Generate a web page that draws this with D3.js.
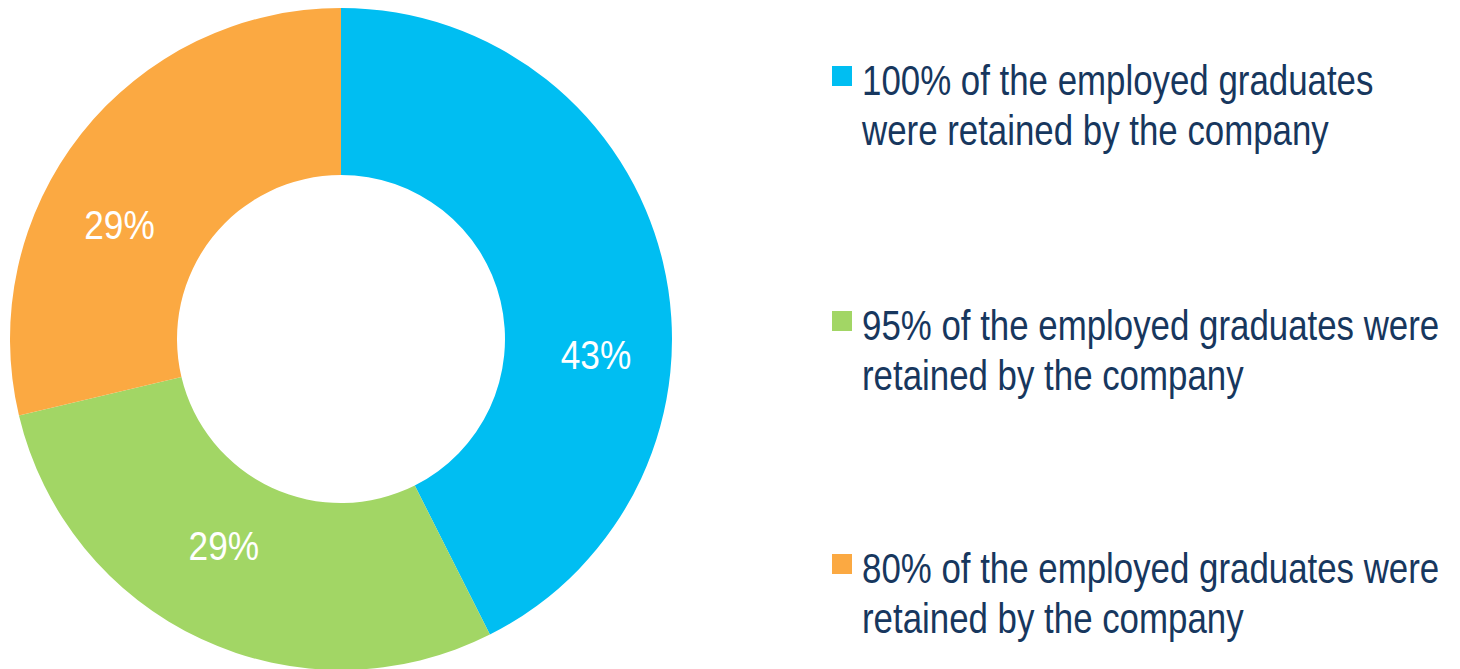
<!DOCTYPE html>
<html>
<head>
<meta charset="utf-8">
<script src="https://cdn.jsdelivr.net/npm/d3@7"></script>
<style>
  html, body { margin: 0; padding: 0; background: #fff; }
  svg { display: block; }
  text { font-family: "Liberation Sans Narrow", "Arial Narrow", "Liberation Sans", Arial, sans-serif; }
</style>
</head>
<body>
<svg id="chart" width="1460" height="669"></svg>
<script>
// Share of employers by how many hired graduates they kept on
const categories = [
  ["100% of the employed graduates", "were retained by the company"],
  ["95% of the employed graduates were", "retained by the company"],
  ["80% of the employed graduates were", "retained by the company"]
];
const values = [43, 29, 29];
const colors = ["#00BEF2", "#A2D665", "#FBA942"];

// Label placement tweaks relative to each slice centroid: angle (degrees) and radius (px)
const labelAngleNudge = [16.8, 4.6, -10.9];
const labelRadiusNudge = [8, -10, 2];

// The narrow face is synthesised by squeezing regular glyphs horizontally
const narrow = 0.83;

const svg = d3.select("#chart");
const cx = 341, cy = 339, outerR = 331, innerR = 164;

const pie = d3.pie().sort(null).value(d => d);
const arcs = pie(values);
const arc = d3.arc().innerRadius(innerR).outerRadius(outerR);

const g = svg.append("g").attr("transform", `translate(${cx},${cy})`);

g.selectAll("path.slice")
  .data(arcs)
  .join("path")
  .attr("class", "slice")
  .attr("d", arc)
  .attr("fill", (d, i) => colors[i]);

const labelR = (innerR + outerR) / 2;
g.selectAll("text.pct")
  .data(arcs)
  .join("text")
  .attr("class", "pct")
  .attr("transform", (d, i) => {
    const a = (d.startAngle + d.endAngle) / 2 + labelAngleNudge[i] * Math.PI / 180;
    const r = labelR + labelRadiusNudge[i];
    return `translate(${Math.sin(a) * r},${-Math.cos(a) * r}) scale(${narrow + 0.03},1)`;
  })
  .attr("text-anchor", "middle")
  .attr("dy", "0.36em")
  .attr("fill", "#fff")
  .attr("font-size", 41)
  .text(d => d.value + "%");

// Legend
const legendX = 832, textX = 862;
const legendTop = [95, 340, 583];
const lineGap = 50;

const items = svg.selectAll("g.legend")
  .data(categories)
  .join("g")
  .attr("class", "legend")
  .attr("transform", (d, i) => `translate(0,${legendTop[i]})`);

items.append("rect")
  .attr("x", legendX)
  .attr("y", -29)
  .attr("width", 20)
  .attr("height", 20)
  .attr("fill", (d, i) => colors[i]);

items.append("text")
  .attr("transform", `translate(${textX},0) scale(${narrow},1)`)
  .attr("fill", "#17375E")
  .attr("font-size", 42)
  .selectAll("tspan")
  .data(d => d)
  .join("tspan")
  .attr("x", 0)
  .attr("y", (d, j) => j * lineGap)
  .text(d => d);
</script>
</body>
</html>
